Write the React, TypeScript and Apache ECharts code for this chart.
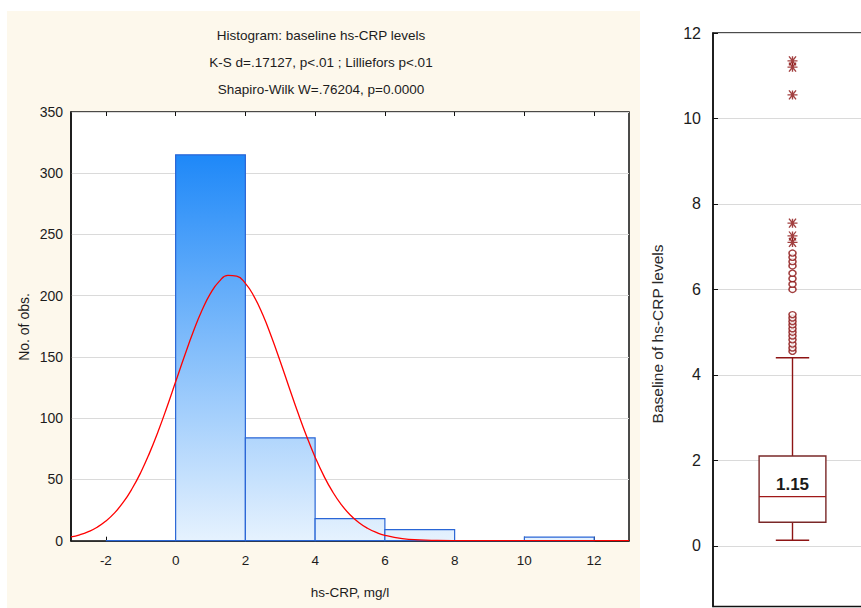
import React, { useEffect, useRef } from "react";
import * as echarts from "echarts";

// ---------- data ----------
const titleLines = [
  "Histogram: baseline hs-CRP levels",
  "K-S d=.17127, p<.01 ; Lilliefors p<.01",
  "Shapiro-Wilk W=.76204, p=0.0000",
];
const histXLabel = "hs-CRP, mg/l";
const histYLabel = "No. of obs.";
const boxYLabel = "Baseline of hs-CRP levels";

const binStarts = [-2, 0, 2, 4, 6, 8, 10];
const binEnds = [0, 2, 4, 6, 8, 10, 12];
const binCounts = [0, 315, 84, 18, 9, 0, 3];
const histXTicks = [-2, 0, 2, 4, 6, 8, 10, 12];

// fitted normal curve
const curveX = [
  -3, -2.75, -2.5, -2.25, -2, -1.75, -1.5, -1.25, -1, -0.75, -0.5, -0.25,
  0, 0.25, 0.5, 0.75, 1, 1.25, 1.5, 1.75, 2, 2.25, 2.5, 2.75, 3, 3.25, 3.5, 3.75,
  4, 4.25, 4.5, 4.75, 5, 5.25, 5.5, 5.75, 6, 6.5, 7, 7.5, 8, 9, 10, 11, 12, 13,
];
const curveY = [
  3.1, 4.8, 7.4, 11.0, 16.0, 22.7, 31.4, 42.4, 55.7, 71.5, 89.4, 109.0,
  129.7, 150.4, 170.1, 187.7, 201.9, 211.7, 216.6, 216.0, 210.1, 199.3, 184.4, 166.3, 146.3, 125.5, 105.0, 85.7,
  68.2, 52.9, 40.0, 29.5, 21.2, 14.9, 10.2, 6.8, 4.4, 1.7, 0.6, 0.2, 0.05, 0, 0, 0, 0, 0,
];

// box plot: whisker low, Q1, median, Q3, whisker high
const boxCategory = ["hs-CRP"];
const boxStats = [0.13, 0.55, 1.15, 2.1, 4.4];
const circleOutliers = [4.55, 4.63, 4.72, 4.82, 4.91, 5.0, 5.08, 5.17, 5.25, 5.33, 5.41, 6.0, 6.12, 6.25, 6.38, 6.55, 6.65, 6.75, 6.85];
const extremeOutliers = [7.1, 7.25, 7.55, 10.55, 11.2, 11.35];
const boxYTicks = [0, 2, 4, 6, 8, 10, 12];

const FONT = "'Liberation Sans', Arial, sans-serif";
const TXT = "#1c1c1c";

export default function App() {
  const ref = useRef<HTMLDivElement>(null);

  useEffect(() => {
    if (!ref.current) return;
    const chart = echarts.init(ref.current, null, { renderer: "svg" });

    const histData = binStarts.map((s, i) => [s, binEnds[i], binCounts[i]]);
    const curveData = curveX.map((x, i) => [x, curveY[i]]);
    const maxCount = Math.max(...binCounts);

    const option: any = {
      animation: false,
      backgroundColor: "#ffffff",
      textStyle: { fontFamily: FONT },
      graphic: [
        {
          type: "rect",
          z: -10,
          silent: true,
          shape: { x: 7, y: 11, width: 633, height: 597 },
          style: { fill: "#fdf8ec" },
        },
        ...titleLines.map((t, i) => ({
          type: "text",
          x: 321,
          y: 35 + i * 27,
          style: {
            text: t,
            fontSize: 13.5,
            fontFamily: FONT,
            fill: TXT,
            textAlign: "center",
            textVerticalAlign: "middle",
          },
        })),
        {
          type: "text",
          x: 350,
          y: 592,
          style: {
            text: histXLabel,
            fontSize: 13.5,
            fontFamily: FONT,
            fill: TXT,
            textAlign: "center",
            textVerticalAlign: "middle",
          },
        },
        {
          type: "text",
          x: 24,
          y: 327,
          rotation: Math.PI / 2,
          style: {
            text: histYLabel,
            fontSize: 14,
            fontFamily: FONT,
            fill: TXT,
            textAlign: "center",
            textVerticalAlign: "middle",
          },
        },
        {
          type: "text",
          x: 657,
          y: 334,
          rotation: Math.PI / 2,
          style: {
            text: boxYLabel,
            fontSize: 15.5,
            fontFamily: FONT,
            fill: "#2a2a2a",
            textAlign: "center",
            textVerticalAlign: "middle",
          },
        },
      ],
      grid: [
        {
          left: 71,
          top: 112,
          width: 558,
          height: 428.7,
          outerBoundsMode: "none",
          show: true,
          backgroundColor: "#ffffff",
          borderColor: "#111",
          borderWidth: 1.5,
        },
        {
          left: 713,
          top: 33,
          width: 159,
          height: 573.5,
          outerBoundsMode: "none",
          show: true,
          backgroundColor: "#ffffff",
          borderColor: "#111",
          borderWidth: 1.5,
        },
      ],
      xAxis: [
        {
          type: "value",
          gridIndex: 0,
          min: -3,
          max: 13,
          axisLine: { show: true, onZero: false, lineStyle: { color: "#111", width: 1.5 } },
          axisTick: { show: true, inside: true, length: 4, customValues: histXTicks, lineStyle: { color: "#111" } },
          axisLabel: { customValues: histXTicks, fontSize: 13.5, color: TXT, margin: 13, fontFamily: FONT },
          splitLine: { show: false },
        },
        {
          type: "value",
          gridIndex: 0,
          position: "top",
          min: -3,
          max: 13,
          axisLine: { show: false, onZero: false },
          axisTick: { show: true, inside: true, length: 4, customValues: histXTicks, lineStyle: { color: "#111" } },
          axisLabel: { show: false },
          splitLine: { show: false },
        },
        {
          type: "category",
          gridIndex: 1,
          data: boxCategory,
          boundaryGap: true,
          axisLine: { show: false },
          axisTick: { show: false },
          axisLabel: { show: false },
          splitLine: { show: false },
        },
      ],
      yAxis: [
        {
          type: "value",
          gridIndex: 0,
          min: 0,
          max: 350,
          interval: 50,
          axisLine: { show: true, onZero: false, lineStyle: { color: "#111", width: 1.5 } },
          axisTick: { show: false },
          axisLabel: { fontSize: 14, color: TXT, margin: 8, fontFamily: FONT },
          splitLine: { show: true, lineStyle: { color: "#dadada", width: 1 } },
        },
        {
          type: "value",
          gridIndex: 1,
          min: -1.42,
          max: 12,
          axisLine: { show: true, onZero: false, lineStyle: { color: "#111", width: 1.5 } },
          axisTick: { show: true, inside: true, length: 5, customValues: boxYTicks, lineStyle: { color: "#111" } },
          axisLabel: { customValues: boxYTicks, fontSize: 16, color: TXT, margin: 12, fontFamily: FONT },
          splitLine: { show: true, lineStyle: { color: "#dadada", width: 1 } },
        },
      ],
      series: [
        {
          type: "custom",
          name: "histogram",
          xAxisIndex: 0,
          yAxisIndex: 0,
          data: histData,
          z: 2,
          renderItem: (params: any, api: any) => {
            const p0 = api.coord([api.value(0), api.value(2)]);
            const p1 = api.coord([api.value(1), 0]);
            const yTop = api.coord([0, maxCount])[1];
            const yBot = api.coord([0, 0])[1];
            const fill = new echarts.graphic.LinearGradient(
              0,
              yTop,
              0,
              yBot,
              [
                { offset: 0, color: "#1e88f8" },
                { offset: 1, color: "#e6f2fe" },
              ],
              true
            );
            return {
              type: "rect",
              shape: { x: p0[0], y: p0[1], width: p1[0] - p0[0], height: p1[1] - p0[1] },
              style: { fill, stroke: "#2a66d6", lineWidth: 1.2 },
            };
          },
        },
        {
          type: "line",
          name: "normal",
          xAxisIndex: 0,
          yAxisIndex: 0,
          data: curveData,
          smooth: true,
          showSymbol: false,
          z: 3,
          lineStyle: { color: "#ff0000", width: 1.3 },
        },
        {
          type: "custom",
          name: "box",
          xAxisIndex: 2,
          yAxisIndex: 1,
          data: [[0, ...boxStats]],
          z: 2,
          renderItem: (params: any, api: any) => {
            const cx = api.coord([api.value(0), 0])[0];
            const bw = api.size([1, 0])[0] * 0.21;
            const y = (k: number) => api.coord([api.value(0), api.value(k)])[1];
            const yLo = y(1), yQ1 = y(2), yMed = y(3), yQ3 = y(4), yHi = y(5);
            const boxStroke = "#7a2828";
            const whisk = "#8e1414";
            return {
              type: "group",
              children: [
                { type: "line", shape: { x1: cx, y1: yQ3, x2: cx, y2: yHi }, style: { stroke: whisk, lineWidth: 1.4 } },
                { type: "line", shape: { x1: cx, y1: yQ1, x2: cx, y2: yLo }, style: { stroke: whisk, lineWidth: 1.4 } },
                { type: "line", shape: { x1: cx - bw / 2, y1: yHi, x2: cx + bw / 2, y2: yHi }, style: { stroke: whisk, lineWidth: 1.4 } },
                { type: "line", shape: { x1: cx - bw / 2, y1: yLo, x2: cx + bw / 2, y2: yLo }, style: { stroke: whisk, lineWidth: 1.4 } },
                {
                  type: "rect",
                  shape: { x: cx - bw, y: yQ3, width: 2 * bw, height: yQ1 - yQ3 },
                  style: { fill: "#ffffff", stroke: boxStroke, lineWidth: 1.4 },
                },
                { type: "line", shape: { x1: cx - bw, y1: yMed, x2: cx + bw, y2: yMed }, style: { stroke: "#a01818", lineWidth: 1.4 } },
                {
                  type: "text",
                  x: cx,
                  y: yMed - 12,
                  style: {
                    text: Number(api.value(3)).toFixed(2),
                    fontSize: 17,
                    fontWeight: "bold",
                    fontFamily: FONT,
                    fill: "#1a1a1a",
                    textAlign: "center",
                    textVerticalAlign: "middle",
                  },
                },
              ],
            };
          },
        },
        {
          type: "scatter",
          name: "outliers",
          xAxisIndex: 2,
          yAxisIndex: 1,
          data: circleOutliers.map((v) => [0, v]),
          symbol: "circle",
          symbolSize: [7, 6],
          z: 4,
          itemStyle: { color: "#ffffff", borderColor: "#8b1010", borderWidth: 1.5 },
        },
        {
          type: "scatter",
          name: "extremes",
          xAxisIndex: 2,
          yAxisIndex: 1,
          data: extremeOutliers.map((v) => [0, v]),
          symbol: "path://M0,4.5L10,4.5M1.5,0L8.5,9M1.5,9L8.5,0M5,0L5,9",
          symbolSize: [10, 9],
          z: 4,
          itemStyle: { color: "none", borderColor: "#8b1010", borderWidth: 1.3 },
        },
      ],
    };

    chart.setOption(option);
    return () => chart.dispose();
  }, []);

  return (
    <div
      ref={ref}
      style={{ position: "fixed", left: 0, top: 0, width: 861, height: 608 }}
    />
  );
}
